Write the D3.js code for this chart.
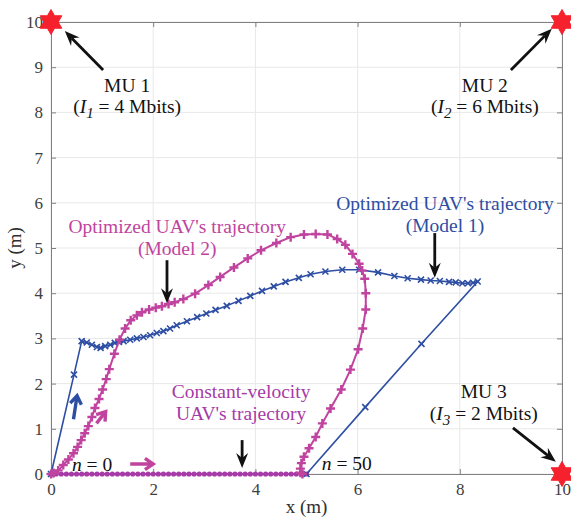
<!DOCTYPE html>
<html>
<head>
<meta charset="utf-8">
<script src="https://cdn.jsdelivr.net/npm/d3@7"></script>
<style>
  body { margin: 0; background: #fff; }
  text { font-family: "Liberation Serif", "Times New Roman", serif; }
</style>
</head>
<body>
<svg id="chart"></svg>
<script>
// ticks
const xTicks = [0, 2, 4, 6, 8, 10];
const yTicks = [0, 1, 2, 3, 4, 5, 6, 7, 8, 9, 10];

// mobile users
const muX = [0, 10, 10];
const muY = [10, 10, 0];

// optimized trajectory, model 1 (blue, x markers)
const model1X = [0, 0.45, 0.60, 0.70, 0.80, 0.90, 0.97, 1.06, 1.16, 1.25, 1.33, 1.42, 1.55, 1.68, 1.81, 1.94,
  2.07, 2.20, 2.33, 2.46, 2.66, 2.86, 3.04, 3.22, 3.44, 3.67, 3.90, 4.13, 4.36, 4.59, 4.85, 5.08, 5.37, 5.70,
  6.03, 6.40, 6.72, 6.98, 7.24, 7.43, 7.61, 7.79, 7.92, 8.05, 8.16, 8.26, 8.35, 7.25, 6.15, 5.0];
const model1Y = [0, 2.20, 2.94, 2.91, 2.86, 2.81, 2.79, 2.83, 2.86, 2.90, 2.92, 2.94, 2.97, 3.00, 3.03, 3.07,
  3.12, 3.16, 3.22, 3.29, 3.38, 3.47, 3.55, 3.63, 3.72, 3.83, 3.94, 4.05, 4.15, 4.25, 4.34, 4.42, 4.48, 4.52,
  4.52, 4.46, 4.38, 4.33, 4.30, 4.28, 4.27, 4.25, 4.24, 4.22, 4.22, 4.23, 4.26, 2.88, 1.48, 0];

// optimized trajectory, model 2 (magenta, + markers)
const model2X = [0, 0.05, 0.14, 0.24, 0.34, 0.44, 0.52, 0.59, 0.66, 0.73, 0.80, 0.86, 0.94, 1.01, 1.08, 1.14,
  1.24, 1.34, 1.45, 1.56, 1.68, 1.78, 1.92, 2.05, 2.17, 2.30, 2.42, 2.59, 2.82, 3.08, 3.31, 3.58, 3.85, 4.11,
  4.41, 4.69, 4.95, 5.18, 5.41, 5.60, 5.76, 5.90, 6.03, 6.09, 6.14, 6.16, 6.16, 6.10, 6.01, 5.86, 5.68, 5.47,
  5.31, 5.18, 5.05, 4.95, 4.90, 4.88, 4.88, 4.92];
const model2Y = [0, 0.02, 0.08, 0.20, 0.32, 0.46, 0.60, 0.75, 0.90, 1.06, 1.26, 1.46, 1.66, 1.87, 2.10, 2.32,
  2.66, 2.97, 3.22, 3.40, 3.51, 3.58, 3.64, 3.68, 3.71, 3.76, 3.80, 3.87, 3.99, 4.18, 4.36, 4.57, 4.77, 4.95,
  5.11, 5.24, 5.30, 5.31, 5.30, 5.20, 5.07, 4.87, 4.65, 4.50, 4.32, 4.00, 3.64, 3.22, 2.76, 2.31, 1.87, 1.45,
  1.12, 0.82, 0.57, 0.38, 0.24, 0.12, 0.03, 0];

// constant-velocity trajectory (dots)
const constX = [0, 0.1, 0.2, 0.3, 0.4, 0.5, 0.6, 0.7, 0.8, 0.9, 1.0, 1.1, 1.2, 1.3, 1.4, 1.5, 1.6, 1.7, 1.8,
  1.9, 2.0, 2.1, 2.2, 2.3, 2.4, 2.5, 2.6, 2.7, 2.8, 2.9, 3.0, 3.1, 3.2, 3.3, 3.4, 3.5, 3.6, 3.7, 3.8, 3.9,
  4.0, 4.1, 4.2, 4.3, 4.4, 4.5, 4.6, 4.7, 4.8, 4.9, 5.0];
const constY = [0, 0, 0, 0, 0, 0, 0, 0, 0, 0, 0, 0, 0, 0, 0, 0, 0, 0, 0, 0, 0, 0, 0, 0, 0, 0, 0, 0, 0, 0,
  0, 0, 0, 0, 0, 0, 0, 0, 0, 0, 0, 0, 0, 0, 0, 0, 0, 0, 0, 0, 0];

const blue = "#2d4ea3";
const magenta = "#c0449f";
const purple = "#a63aa6";

const width = 571, height = 523;
const svg = d3.select("#chart").attr("width", width).attr("height", height);

const x = d3.scaleLinear().domain([0, 10]).range([51, 562]);
const y = d3.scaleLinear().domain([0, 10]).range([474, 22]);

// grid
const grid = svg.append("g");
grid.selectAll("line.gx").data(xTicks).join("line")
  .attr("x1", d => x(d)).attr("x2", d => x(d)).attr("y1", y(0)).attr("y2", y(10))
  .attr("stroke", "#e8e8e8");
grid.selectAll("line.gy").data(yTicks).join("line")
  .attr("y1", d => y(d)).attr("y2", d => y(d)).attr("x1", x(0)).attr("x2", x(10))
  .attr("stroke", "#e8e8e8");

// axes (box, ticks inward)
const axisStyle = g => {
  g.select(".domain").attr("stroke", "#808080");
  g.selectAll(".tick line").attr("stroke", "#808080");
  g.selectAll(".tick text").attr("fill", "#404040").style("font-size", "17px")
    .style("font-family", "Liberation Serif");
};
svg.append("g").attr("transform", `translate(0,${y(0)})`)
  .call(d3.axisBottom(x).tickValues(xTicks).tickSizeInner(-5).tickSizeOuter(0).tickPadding(9))
  .call(axisStyle);
svg.append("g").attr("transform", `translate(0,${y(10)})`)
  .call(d3.axisTop(x).tickValues(xTicks).tickSizeInner(-5).tickSizeOuter(0).tickFormat(""))
  .call(axisStyle);
svg.append("g").attr("transform", `translate(${x(0)},0)`)
  .call(d3.axisLeft(y).tickValues(yTicks).tickSizeInner(-5).tickSizeOuter(0).tickPadding(8))
  .call(axisStyle);
svg.append("g").attr("transform", `translate(${x(10)},0)`)
  .call(d3.axisRight(y).tickValues(yTicks).tickSizeInner(-5).tickSizeOuter(0).tickFormat(""))
  .call(axisStyle);

svg.append("text").attr("x", (x(0) + x(10)) / 2).attr("y", 513).attr("text-anchor", "middle")
  .style("font-size", "19px").attr("fill", "#303030").text("x (m)");
svg.append("text").attr("transform", `translate(21,${(y(0) + y(10)) / 2}) rotate(-90)`)
  .attr("text-anchor", "middle").style("font-size", "19px").attr("fill", "#303030").text("y (m)");

const line = d3.line().x(d => x(d[0])).y(d => y(d[1]));
const pts = (xs, ys) => xs.map((v, i) => [v, ys[i]]);

// constant-velocity
const cPts = pts(constX, constY);
svg.append("path").datum(cPts).attr("d", line).attr("fill", "none").attr("stroke", purple).attr("stroke-width", 2);
svg.append("g").selectAll("circle").data(cPts).join("circle")
  .attr("cx", d => x(d[0])).attr("cy", d => y(d[1])).attr("r", 2.6).attr("fill", purple);

// model 1
const m1 = pts(model1X, model1Y);
svg.append("path").datum(m1).attr("d", line).attr("fill", "none").attr("stroke", blue).attr("stroke-width", 1.6);
svg.append("g").selectAll("path").data(m1).join("path")
  .attr("transform", d => `translate(${x(d[0])},${y(d[1])})`)
  .attr("d", "M-3,-3L3,3M-3,3L3,-3").attr("stroke", blue).attr("stroke-width", 1.6);

// model 2
const m2 = pts(model2X, model2Y);
svg.append("path").datum(m2).attr("d", line).attr("fill", "none").attr("stroke", magenta).attr("stroke-width", 2);
svg.append("g").selectAll("path").data(m2).join("path")
  .attr("transform", d => `translate(${x(d[0])},${y(d[1])})`)
  .attr("d", "M-4.5,0L4.5,0M0,-4.5L0,4.5").attr("stroke", magenta).attr("stroke-width", 2.4);

// black annotation arrows
function blackArrow(x1, y1, x2, y2) {
  const px1 = x(x1), py1 = y(y1), px2 = x(x2), py2 = y(y2);
  const a = Math.atan2(py2 - py1, px2 - px1);
  const L = 15, W = 6, N = 10;
  const ux = Math.cos(a), uy = Math.sin(a);
  const bx = px2 - ux * L, by = py2 - uy * L;
  const nx = px2 - ux * N, ny = py2 - uy * N;
  svg.append("line").attr("x1", px1).attr("y1", py1).attr("x2", nx).attr("y2", ny)
    .attr("stroke", "#111").attr("stroke-width", 2.8);
  svg.append("path")
    .attr("d", `M${px2},${py2}L${bx - uy * W},${by + ux * W}L${nx},${ny}L${bx + uy * W},${by - ux * W}Z`)
    .attr("fill", "#111");
}
blackArrow(1.02, 8.94, 0.27, 9.80);
blackArrow(9.0, 8.94, 9.80, 9.85);
blackArrow(9.04, 1.02, 9.88, 0.27);
blackArrow(2.27, 4.73, 2.27, 3.78);
blackArrow(7.51, 5.33, 7.51, 4.34);
blackArrow(3.74, 0.75, 3.74, 0.13);

// small direction arrows
function dirArrow(x1, y1, x2, y2, color) {
  const px1 = x(x1), py1 = y(y1), px2 = x(x2), py2 = y(y2);
  const a = Math.atan2(py2 - py1, px2 - px1);
  const h = 10, s = 0.6;
  svg.append("path")
    .attr("d", `M${px1},${py1}L${px2},${py2}` +
      `M${px2 - h * Math.cos(a - s)},${py2 - h * Math.sin(a - s)}L${px2},${py2}` +
      `L${px2 - h * Math.cos(a + s)},${py2 - h * Math.sin(a + s)}`)
    .attr("fill", "none").attr("stroke", color).attr("stroke-width", 3.4)
    .attr("stroke-linejoin", "miter");
}
dirArrow(0.44, 1.21, 0.51, 1.73, blue);
dirArrow(0.89, 1.12, 1.07, 1.38, magenta);
dirArrow(1.55, 0.22, 2.0, 0.22, magenta);

// text labels
function label(cx, cy, color, parts, anchor) {
  const t = svg.append("text").attr("x", x(cx)).attr("y", y(cy)).attr("text-anchor", anchor || "middle")
    .attr("fill", color).style("font-size", "19.5px");
  parts.forEach(p => {
    const s = t.append("tspan").text(p.t);
    if (p.i) s.style("font-style", "italic");
    if (p.sub) s.attr("baseline-shift", "-30%").style("font-size", "15px");
  });
}
label(1.49, 8.45, "#111", [{t: "MU 1"}]);
label(1.49, 7.99, "#111", [{t: "("}, {t: "I", i: 1}, {t: "1", i: 1, sub: 1}, {t: " = 4 Mbits)"}]);
label(8.49, 8.45, "#111", [{t: "MU 2"}]);
label(8.49, 7.99, "#111", [{t: "("}, {t: "I", i: 1}, {t: "2", i: 1, sub: 1}, {t: " = 6 Mbits)"}]);
label(8.47, 1.68, "#111", [{t: "MU 3"}]);
label(8.47, 1.20, "#111", [{t: "("}, {t: "I", i: 1}, {t: "3", i: 1, sub: 1}, {t: " = 2 Mbits)"}]);
label(2.47, 5.33, magenta, [{t: "Optimized UAV's trajectory"}]);
label(2.47, 4.85, magenta, [{t: "(Model 2)"}]);
label(7.71, 5.84, blue, [{t: "Optimized UAV's trajectory"}]);
label(7.71, 5.35, blue, [{t: "(Model 1)"}]);
label(3.72, 1.68, purple, [{t: "Constant-velocity"}]);
label(3.72, 1.20, purple, [{t: "UAV's trajectory"}]);
label(0.41, 0.07, "#111", [{t: "n", i: 1}, {t: " = 0"}], "start");
label(5.30, 0.09, "#111", [{t: "n", i: 1}, {t: " = 50"}], "start");

// MU stars (hexagram)
const R = 12.5, r = R / Math.sqrt(3);
const star = d3.range(12).map(k => {
  const ang = -Math.PI / 2 + k * Math.PI / 6, rad = k % 2 ? r : R;
  return [rad * Math.cos(ang), rad * Math.sin(ang)];
});
svg.append("g").selectAll("path").data(pts(muX, muY)).join("path")
  .attr("transform", d => `translate(${x(d[0])},${y(d[1])})`)
  .attr("d", "M" + star.join("L") + "Z").attr("fill", "#f5222d").attr("stroke", "#f5222d");
</script>
</body>
</html>
